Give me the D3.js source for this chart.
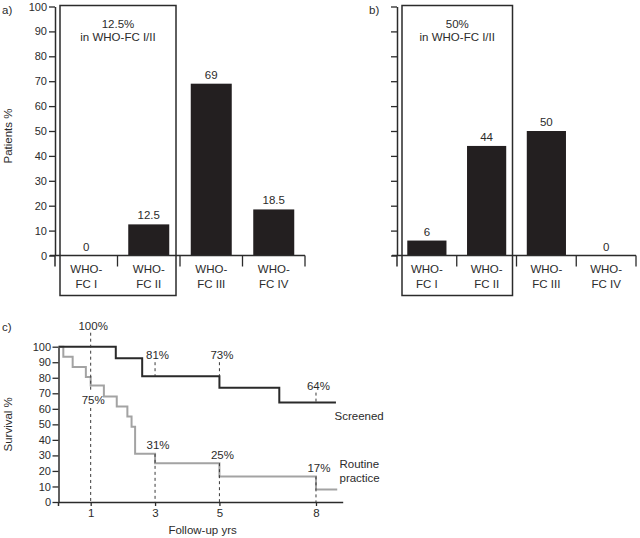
<!DOCTYPE html>
<html><head><meta charset="utf-8">
<script src="https://cdn.jsdelivr.net/npm/d3@7"></script>
<style>
html,body{margin:0;padding:0;background:#fff;}
svg{display:block;}
text{font-family:"Liberation Sans",Arial,Helvetica,sans-serif;fill:#2b2b2b;}
</style></head>
<body><svg id="c" width="640" height="538"></svg>
<script>
// ---------- data ----------
const categories = ["WHO-FC I", "WHO-FC II", "WHO-FC III", "WHO-FC IV"];
const catLine1 = ["WHO-", "WHO-", "WHO-", "WHO-"];
const catLine2 = ["FC I", "FC II", "FC III", "FC IV"];
const valuesA = [0, 12.5, 69, 18.5];
const labelsA = ["0", "12.5", "69", "18.5"];
const valuesB = [6, 44, 50, 0];
const labelsB = ["6", "44", "50", "0"];
const barTicks = [0, 10, 20, 30, 40, 50, 60, 70, 80, 90, 100];
const boxTextA = ["12.5%", "in WHO-FC I/II"];
const boxTextB = ["50%", "in WHO-FC I/II"];

const survTicks = [0, 10, 20, 30, 40, 50, 60, 70, 80, 90, 100];
const yearTicks = [1, 3, 5, 8];
const screenedTimes = [0, 1.78, 2.6, 5.0, 6.86, 8.62];
const screenedSurv  = [100, 92.5, 81, 73.5, 64, 64];
const routineTimes = [0, 0.15, 0.44, 0.85, 1.0, 1.41, 1.81, 2.14, 2.27, 2.38, 3.0, 5.0, 8.0, 8.66];
const routineSurv  = [100, 93.5, 87, 80.5, 75, 68, 61.5, 55, 48.5, 31, 25, 16.5, 8, 8];
const markerYears = [1, 3, 5, 8];
const screenedMarks = ["100%", "81%", "73%", "64%"];
const routineMarks = ["75%", "31%", "25%", "17%"];

// ---------- drawing ----------
const svg = d3.select("#c");
const INK = "#2b2b2b";
const FONT = 11.5;

function styleAxis(g) {
  g.selectAll("path.domain").attr("stroke", INK).attr("stroke-width", 1.5);
  g.selectAll(".tick line").attr("stroke", INK).attr("stroke-width", 1.3);
  g.selectAll(".tick text").attr("fill", INK).style("font-size", "11px")
    .style("font-family", '"Liberation Sans",Arial,sans-serif');
}

function barPanel(x0, x1, values, labels, boxText, showTickLabels, panelLetter, letterX) {
  const y = d3.scaleLinear().domain([0, 100]).range([255.5, 6.5]);
  const x = d3.scaleBand().domain(categories).range([x0, x1]).paddingInner(0.344).paddingOuter(0.172);
  const gap = x.step() * x.paddingInner();
  const bounds = categories.map(c => x(c) + x.bandwidth() + gap / 2);

  // box around FC I / FC II
  const bx0 = x0 + 5, bx1 = bounds[1] - 4;
  svg.append("rect").attr("x", bx0).attr("y", y(100) - 1)
    .attr("width", bx1 - bx0).attr("height", y(0) + 40 - (y(100) - 1))
    .attr("fill", "none").attr("stroke", INK).attr("stroke-width", 1.5);
  boxText.forEach((t, i) => {
    svg.append("text").attr("x", (bx0 + bx1) / 2).attr("y", y(100) + 21 + i * 13.5)
      .attr("text-anchor", "middle").style("font-size", FONT + "px").text(t);
  });

  // bars
  svg.selectAll(null).data(values).enter().append("rect")
    .attr("x", (d, i) => x(categories[i])).attr("width", x.bandwidth())
    .attr("y", d => y(d)).attr("height", d => y(0) - y(d))
    .attr("fill", "#231f20");
  svg.selectAll(null).data(values).enter().append("text")
    .attr("x", (d, i) => x(categories[i]) + x.bandwidth() / 2)
    .attr("y", d => y(d) - 5).attr("text-anchor", "middle")
    .style("font-size", FONT + "px").text((d, i) => labels[i]);

  // y axis
  const ax = d3.axisLeft(y).tickValues(barTicks).tickSize(6).tickPadding(2).tickSizeOuter(0);
  if (!showTickLabels) ax.tickFormat("");
  const g = svg.append("g").attr("transform", `translate(${x0},0)`).call(ax);
  styleAxis(g);
  svg.append("line").attr("x1", x0).attr("x2", x0).attr("y1", y(0)).attr("y2", y(0) + 11)
    .attr("stroke", INK).attr("stroke-width", 1.5);
  // baseline
  svg.append("line").attr("x1", x0 - 5).attr("x2", x1).attr("y1", y(0)).attr("y2", y(0))
    .attr("stroke", INK).attr("stroke-width", 1.5);
  // separators
  bounds.forEach(b => {
    svg.append("line").attr("x1", b).attr("x2", b).attr("y1", y(0)).attr("y2", y(0) + 11)
      .attr("stroke", INK).attr("stroke-width", 1.3);
  });
  // category labels
  categories.forEach((c, i) => {
    const cx = x(c) + x.bandwidth() / 2;
    svg.append("text").attr("x", cx).attr("y", y(0) + 17).attr("text-anchor", "middle")
      .style("font-size", FONT + "px").text(catLine1[i]);
    svg.append("text").attr("x", cx).attr("y", y(0) + 32).attr("text-anchor", "middle")
      .style("font-size", FONT + "px").text(catLine2[i]);
  });
  svg.append("text").attr("x", letterX).attr("y", 14).style("font-size", FONT + "px").text(panelLetter);
  return y;
}

const yA = barPanel(55, 305, valuesA, labelsA, boxTextA, true, "a)", 2);
barPanel(397, 636, valuesB, labelsB, boxTextB, false, "b)", 369);
svg.append("text").attr("transform", `translate(12,${(yA(0) + yA(100)) / 2 + 5}) rotate(-90)`)
  .attr("text-anchor", "middle").style("font-size", FONT + "px").text("Patients %");

// ---------- survival panel ----------
const xs = d3.scaleLinear().domain([0, 8.83]).range([58.5, 342.7]);
const ys = d3.scaleLinear().domain([0, 100]).range([502, 346.7]);

const gy = svg.append("g").attr("transform", `translate(${xs(0)},0)`)
  .call(d3.axisLeft(ys).tickValues(survTicks).tickSize(6).tickPadding(1.5).tickSizeOuter(0));
styleAxis(gy);
svg.append("line").attr("x1", xs(0)).attr("x2", xs(0)).attr("y1", ys(0)).attr("y2", ys(0) + 4)
  .attr("stroke", INK).attr("stroke-width", 1.5);
const gx = svg.append("g").attr("transform", `translate(0,${ys(0)})`)
  .call(d3.axisBottom(xs).tickValues(yearTicks).tickSize(4).tickPadding(3).tickSizeOuter(0));
styleAxis(gx);
gx.selectAll(".tick text").style("font-size", "11.5px");

const stepLine = d3.line().x(d => xs(d[0])).y(d => ys(d[1])).curve(d3.curveStepAfter);
svg.append("path").datum(routineTimes.map((t, i) => [t, routineSurv[i]]))
  .attr("d", stepLine).attr("fill", "none").attr("stroke", "#a3a3a3").attr("stroke-width", 2);
svg.append("path").datum(screenedTimes.map((t, i) => [t, screenedSurv[i]]))
  .attr("d", stepLine).attr("fill", "none").attr("stroke", "#2a2a2a").attr("stroke-width", 2);

function valueBefore(times, vals, t) {
  let v = vals[0];
  for (let i = 0; i < times.length; i++) { if (times[i] < t - 1e-9) v = vals[i]; }
  return v;
}
function dash(xv, y1, y2) {
  svg.append("line").attr("x1", xs(xv)).attr("x2", xs(xv)).attr("y1", y1).attr("y2", y2)
    .attr("stroke", "#3a3a3a").attr("stroke-width", 1).attr("stroke-dasharray", "3,3");
}
markerYears.forEach((t, i) => {
  const sv = valueBefore(screenedTimes, screenedSurv, t);
  const rv = valueBefore(routineTimes, routineSurv, t);
  const sLabelY = ys(sv) - 21 + (t === 8 ? 4 : 0);
  svg.append("text").attr("x", xs(t) + 2.5).attr("y", sLabelY + 4).attr("text-anchor", "middle")
    .style("font-size", FONT + "px").text(screenedMarks[i]);
  if (i === 0) {
    const rLabelY = ys(rv) + 23;
    svg.append("text").attr("x", xs(t) + 2.5).attr("y", rLabelY + 4).attr("text-anchor", "middle")
      .style("font-size", FONT + "px").text(routineMarks[i]);
    dash(t, sLabelY + 7, rLabelY - 9);
    dash(t, rLabelY + 8, ys(0));
  } else {
    const rLabelY = ys(rv) - 8.5;
    svg.append("text").attr("x", xs(t) + 3).attr("y", rLabelY + 4).attr("text-anchor", "middle")
      .style("font-size", FONT + "px").text(routineMarks[i]);
    dash(t, sLabelY + 7, ys(sv));
    dash(t, ys(rv), ys(0));
  }
});

svg.append("text").attr("x", 334.5).attr("y", 420).style("font-size", FONT + "px").text("Screened");
svg.append("text").attr("x", 339.5).attr("y", 468).style("font-size", FONT + "px").text("Routine");
svg.append("text").attr("x", 339.5).attr("y", 481.5).style("font-size", FONT + "px").text("practice");

svg.append("text").attr("x", (xs(0) + xs(8.83)) / 2 + 2).attr("y", 534).attr("text-anchor", "middle")
  .style("font-size", FONT + "px").text("Follow-up yrs");
svg.append("text").attr("transform", `translate(12,${(ys(0) + ys(100)) / 2}) rotate(-90)`)
  .attr("text-anchor", "middle").style("font-size", FONT + "px").text("Survival %");
svg.append("text").attr("x", 2).attr("y", 331).style("font-size", FONT + "px").text("c)");
</script></body></html>
